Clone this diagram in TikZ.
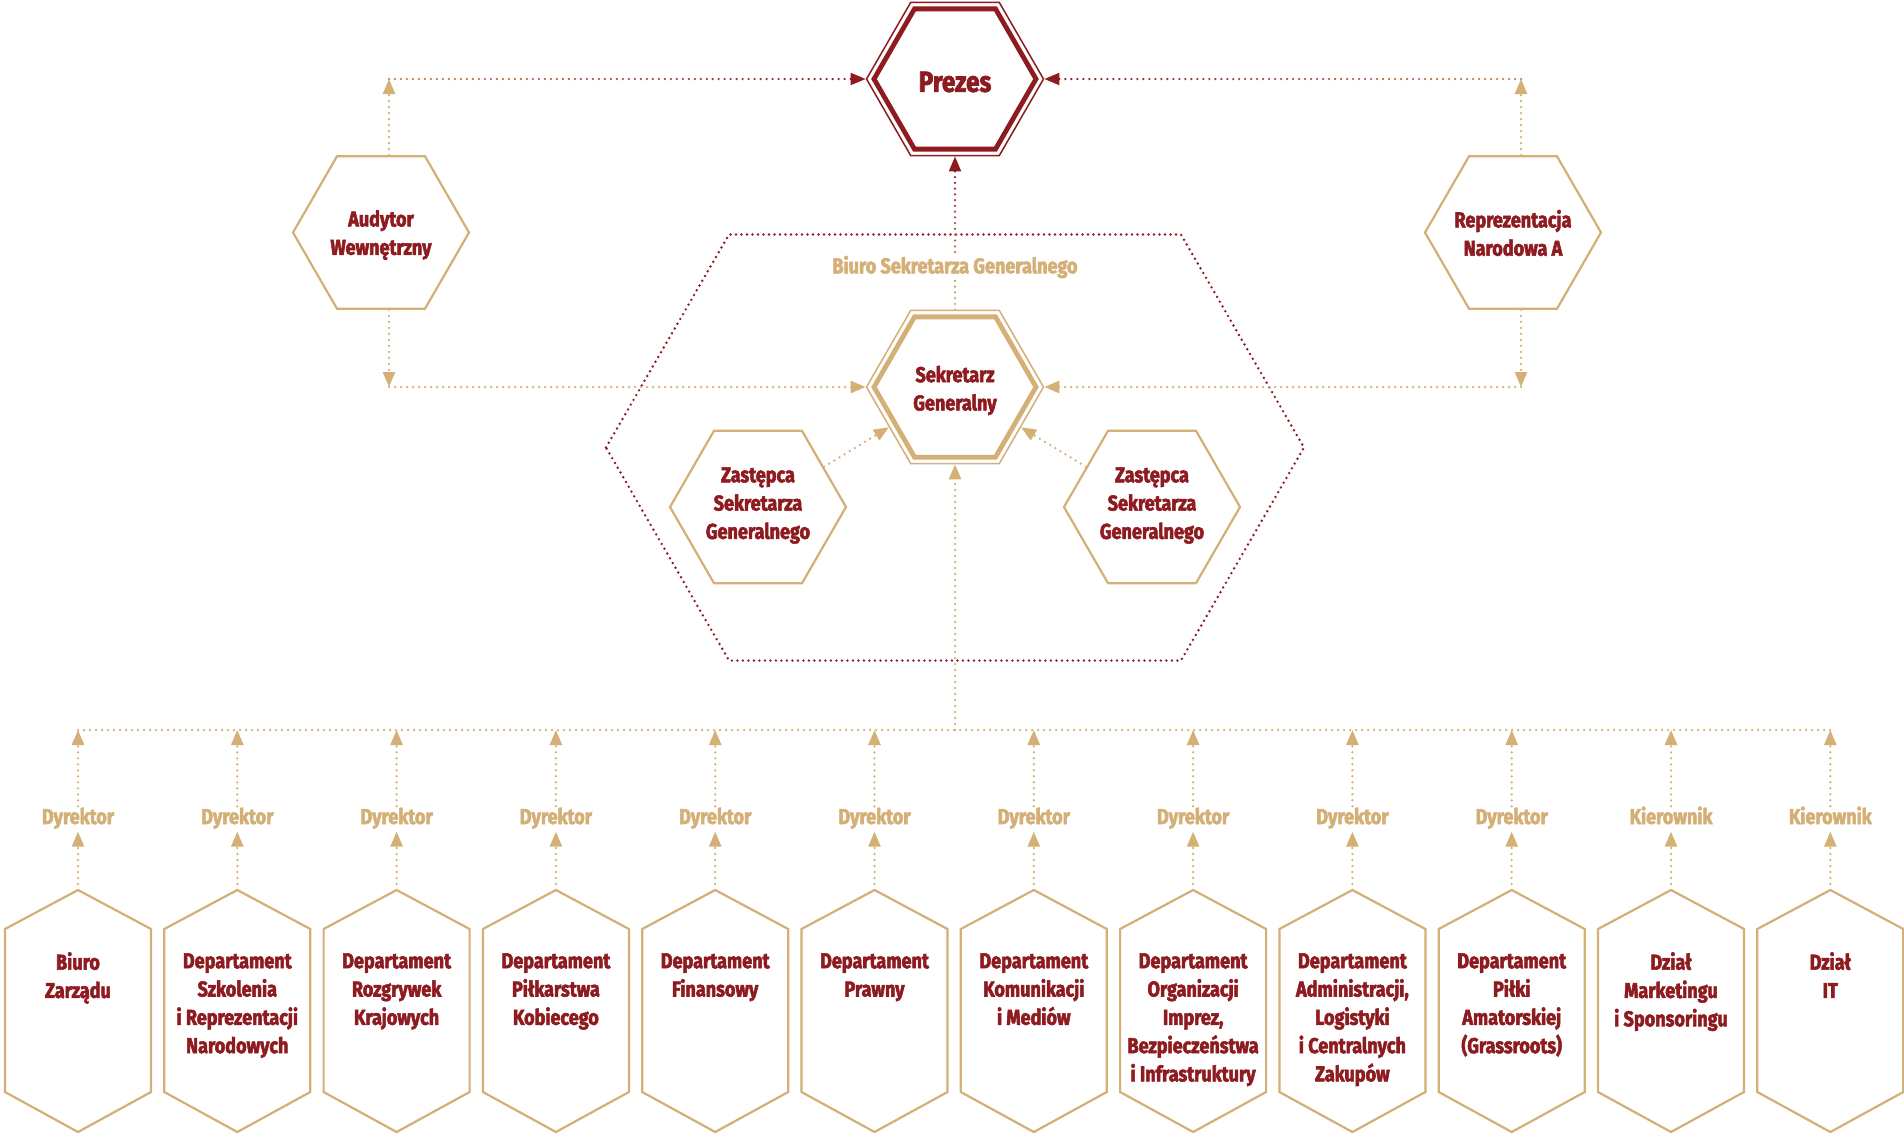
\documentclass[tikz,border=0pt]{standalone}
\usepackage{fontspec}
\setmainfont{Fira Sans}[FakeStretch=0.84, BoldFeatures={FakeBold=2.5}]
\usetikzlibrary{shapes.geometric,arrows.meta,calc}
\definecolor{brandred}{RGB}{142,27,31}
\definecolor{brandtan}{RGB}{212,175,118}
\newcommand\fmain{\fontsize{21.5}{28.3}\selectfont\bfseries}
\newcommand\fbig{\fontsize{29}{34}\selectfont\bfseries}
\newcommand\fstrut{\rule{0pt}{16pt}}
\tikzset{
  hexreg/.style={regular polygon, regular polygon sides=6, minimum size=176pt, inner sep=0pt, draw=brandtan, line width=2.2pt, fill=white},
  hexouter/.style={regular polygon, regular polygon sides=6, minimum size=177pt, inner sep=0pt, line width=1.5pt, fill=white},
  hexinner/.style={regular polygon, regular polygon sides=6, minimum size=162pt, inner sep=0pt, line width=4.8pt},
  ttext/.style={text=brandred, font=\fmain, align=center, inner sep=0pt},
  depttext/.style={text=brandred, font=\fmain, align=center, inner sep=0pt, anchor=north},
  rolelbl/.style={text=brandtan, font=\fmain, text height=15pt, text depth=5pt, inner sep=2.5pt, anchor=base},
  hexline/.style={draw=brandtan, line width=2.2pt},
  tandot/.style={draw=brandtan, line width=2.5pt, line cap=round, dash pattern=on 0pt off 6pt},
  reddot/.style={draw=brandred, line width=2.7pt, line cap=round, dash pattern=on 0pt off 5.5pt},
  arrowhd/.style={-{Triangle[length=15pt,width=12pt]}},
}
% gradient dotted connector: #1 start, #2 arrow tip, #3 number of dots, #4 red percentage at start
\newcommand\gradlink[4]{%
  \coordinate (gbase) at ($(#2)!15pt!(#1)$);
  \foreach \k in {0,...,#3}{%
    \pgfmathtruncatemacro\mixv{#4+(100-#4)*\k/#3}%
    \fill[brandred!\mixv!brandtan] ($(#1)!\k/#3!(gbase)$) circle[radius=1.25pt];
  }
  \draw[brandred, line width=2pt, arrowhd] (gbase) -- (#2);
}
% department: #1 index, #2 x, #3 text, #4 role
\newcommand\dept[4]{%
  \coordinate (dtop#1) at (#2,890);
  \coordinate (bus#1) at (#2,730);
  \draw[hexline] (dtop#1) -- ++(73,39) -- ++(0,163) -- ++(-73,40) -- ++(-73,-40) -- ++(0,-163) -- cycle;
  \node[depttext] (dtext#1) at (#2,952) {\fstrut #3};
  \node[rolelbl] (role#1) at (#2,824) {#4};
  \draw[tandot, arrowhd] (dtop#1) -- (role#1.south);
  \draw[tandot, arrowhd] (role#1.north) -- (bus#1);
}
\begin{document}
\begin{tikzpicture}[x=1pt,y=-1pt]
\fill[white] (0,0) rectangle (1904,1135);
\useasboundingbox (0,0) rectangle (1904,1135);

% Biuro Sekretarza Generalnego frame
\draw[reddot] (606,447.5) -- (729,234.5) -- (1181,234.5) -- (1304,447.5) -- (1181,660.5) -- (729,660.5) -- cycle;

% Prezes
\node[hexouter, draw=brandred] (pre) at (955,79) {};
\node[hexinner, draw=brandred] (preIn) at (955,79) {};
\node[ttext, font=\fbig] (preT) at (955,82) {Prezes};

% Sekretarz Generalny
\node[hexouter, draw=brandtan] (sek) at (955,387) {};
\node[hexinner, draw=brandtan] (sekIn) at (955,387) {};
\node[ttext] (sekT) at (955,390.5) {Sekretarz\\Generalny};

% Audytor / Reprezentacja
\node[hexreg] (aud) at (381,232.5) {};
\node[ttext] (audT) at (381,235) {Audytor\\Wewnętrzny};
\node[hexreg] (rep) at (1513,232.5) {};
\node[ttext] (repT) at (1513,233) {Reprezentacja\\Narodowa A};

% Zastepcy
\node[hexreg] (zl) at (758,507) {};
\node[ttext] (zlT) at (758,505.5) {Zastępca\\Sekretarza\\Generalnego};
\node[hexreg] (zr) at (1152,507) {};
\node[ttext] (zrT) at (1152,505.5) {Zastępca\\Sekretarza\\Generalnego};

% connectors around top
\coordinate (audUp) at (389,79);
\coordinate (audDn) at (389,387);
\coordinate (repUp) at (1521,79);
\coordinate (repDn) at (1521,387);
\draw[tandot,arrowhd] ([xshift=8pt]aud.north) -- (audUp);
\draw[tandot,arrowhd] ([xshift=8pt]aud.south) -- (audDn);
\draw[tandot,arrowhd] (audDn) -- (sek.west);
\draw[tandot,arrowhd] ([xshift=8pt]rep.north) -- (repUp);
\draw[tandot,arrowhd] ([xshift=8pt]rep.south) -- (repDn);
\draw[tandot,arrowhd] (repDn) -- (sek.east);
\gradlink{audUp}{pre.west}{77}{30}
\gradlink{repUp}{pre.east}{77}{30}
\gradlink{sek.north}{pre.south}{24}{0}
\draw[tandot,arrowhd] (zl) -- (sek);
\draw[tandot,arrowhd] (zr) -- (sek);

\node[text=brandtan, font=\fmain, fill=white, inner sep=1pt] (biuroT) at (955,267) {Biuro Sekretarza Generalnego};

% bus
\coordinate (busc) at (955,730);
\dept{0}{78}{Biuro\\Zarządu}{Dyrektor}
\dept{1}{237.3}{Departament\\Szkolenia\\i Reprezentacji\\Narodowych}{Dyrektor}
\dept{2}{396.6}{Departament\\Rozgrywek\\Krajowych}{Dyrektor}
\dept{3}{555.9}{Departament\\Piłkarstwa\\Kobiecego}{Dyrektor}
\dept{4}{715.2}{Departament\\Finansowy}{Dyrektor}
\dept{5}{874.5}{Departament\\Prawny}{Dyrektor}
\dept{6}{1033.8}{Departament\\Komunikacji\\i Mediów}{Dyrektor}
\dept{7}{1193.1}{Departament\\Organizacji\\Imprez,\\Bezpieczeństwa\\i Infrastruktury}{Dyrektor}
\dept{8}{1352.4}{Departament\\Administracji,\\Logistyki\\i Centralnych\\Zakupów}{Dyrektor}
\dept{9}{1511.7}{Departament\\Piłki\\Amatorskiej\\(Grassroots)}{Dyrektor}
\dept{10}{1671}{Dział\\Marketingu\\i Sponsoringu}{Kierownik}
\dept{11}{1830.3}{Dział\\IT}{Kierownik}
\draw[tandot] (bus0) -- (bus11);
\draw[tandot,arrowhd] (busc) -- (sek.south);
\end{tikzpicture}
\end{document}
